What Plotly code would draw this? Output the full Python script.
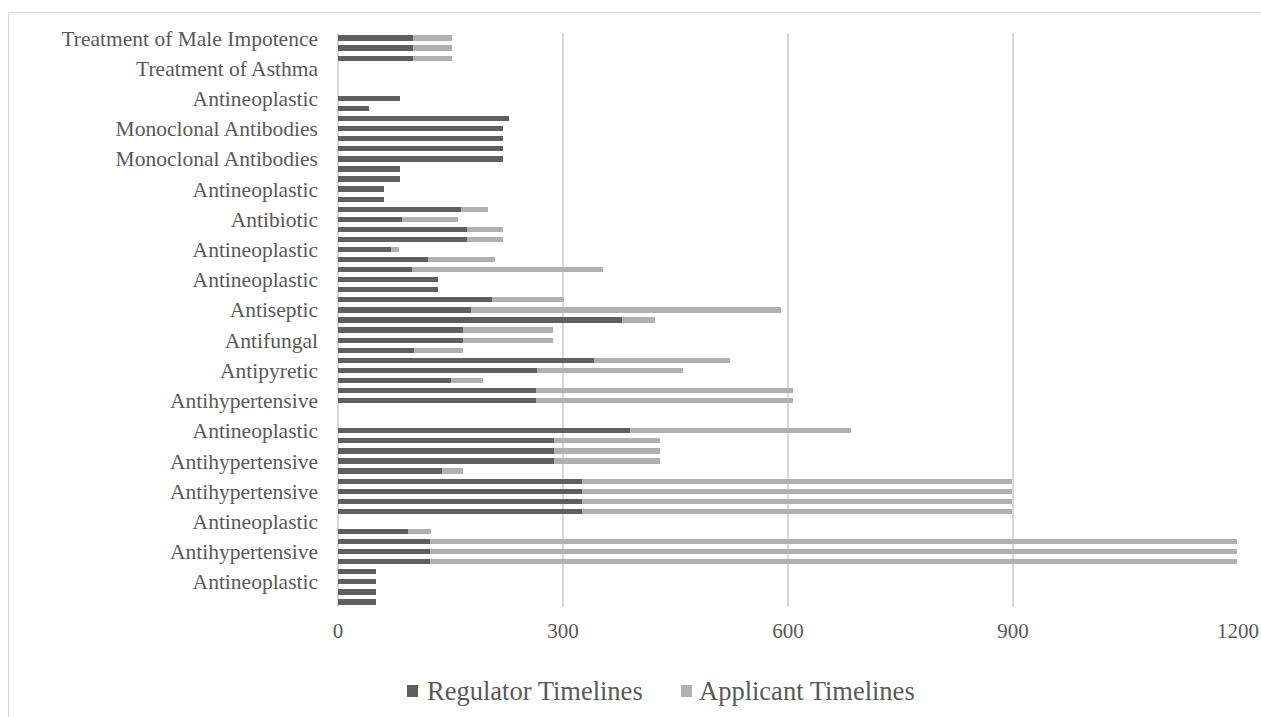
import plotly.graph_objects as go

# Rows listed from top to bottom of the chart
row_labels_top_down = [
    "Treatment of Male Impotence", "", "",
    "Treatment of Asthma", "", "",
    "Antineoplastic", "", "",
    "Monoclonal Antibodies", "", "",
    "Monoclonal Antibodies", "", "",
    "Antineoplastic", "", "",
    "Antibiotic", "", "",
    "Antineoplastic", "", "",
    "Antineoplastic", "", "",
    "Antiseptic", "", "",
    "Antifungal", "", "",
    "Antipyretic", "", "",
    "Antihypertensive", "", "",
    "Antineoplastic", "", "",
    "Antihypertensive", "", "",
    "Antihypertensive", "", "",
    "Antineoplastic", "", "",
    "Antihypertensive", "", "",
    "Antineoplastic", "", "",
]

regulator_top_down = [
    100, 100, 100, 0, 0, 0, 83, 41, 228, 220, 220, 220, 220, 83, 83, 61, 61,
    164, 85, 172, 172, 71, 120, 99, 133, 133, 205, 177, 379, 167, 167, 101,
    341, 265, 151, 264, 264, 0, 0, 389, 288, 288, 288, 139, 325, 325, 325,
    325, 0, 93, 123, 123, 123, 51, 51, 51, 51,
]

applicant_top_down = [
    52, 52, 52, 0, 0, 0, 0, 0, 0, 0, 0, 0, 0, 0, 0, 0, 0,
    36, 75, 48, 48, 10, 89, 254, 0, 0, 96, 414, 44, 120, 120, 66,
    182, 195, 42, 343, 343, 0, 0, 295, 141, 141, 141, 28, 573, 573, 573,
    573, 0, 31, 1075, 1075, 1075, 0, 0, 0, 0,
]

series_names = ["Regulator Timelines", "Applicant Timelines"]
series_colors = ["#5f5f5f", "#b0b0b0"]
x_ticks = [0, 300, 600, 900, 1200]

# Plot from bottom (index 0) to top
labels = row_labels_top_down[::-1]
regulator = regulator_top_down[::-1]
applicant = applicant_top_down[::-1]
positions = list(range(len(labels)))

tick_vals = [p for p, l in zip(positions, labels) if l]
tick_text = [l for l in labels if l]

font_family = "Liberation Serif, Times New Roman, serif"
text_color = "#595959"
grid_color = "#d9d9d9"

fig = go.Figure()
for vals, name, color in zip([regulator, applicant], series_names, series_colors):
    fig.add_trace(go.Bar(
        y=positions, x=vals, orientation="h", name=name,
        marker=dict(color=color, line=dict(width=0)), width=0.52,
    ))

# Legend drawn as squares + real text to match the tight spacing
legend_squares = [(0.0776, 0.0898), (0.3814, 0.3936)]
legend_text_x = [0.0976, 0.3991]
shapes = [
    dict(type="rect", xref="paper", yref="paper",
         x0=-0.3642, x1=1.2, y0=-0.5, y1=1.0357,
         line=dict(color=grid_color, width=1), fillcolor="rgba(0,0,0,0)",
         layer="below"),
]
annotations = []
for (sx0, sx1), tx, name, color in zip(legend_squares, legend_text_x, series_names, series_colors):
    shapes.append(dict(type="rect", xref="paper", yref="paper",
                       x0=sx0, x1=sx1, y0=-0.1568, y1=-0.1359,
                       line=dict(width=0), fillcolor=color))
    annotations.append(dict(xref="paper", yref="paper", x=tx, y=-0.1463,
                            xanchor="left", yanchor="middle", showarrow=False,
                            text=name,
                            font=dict(size=26.5, color=text_color, family=font_family)))

fig.update_layout(
    barmode="stack",
    width=1261, height=717,
    margin=dict(l=337, r=22, t=33, b=110, autoexpand=False),
    paper_bgcolor="white", plot_bgcolor="white",
    font=dict(family=font_family, color=text_color, size=21),
    showlegend=False,
    xaxis=dict(
        range=[-1.333, 1201.333], tickvals=x_ticks, ticktext=[str(v) for v in x_ticks],
        showgrid=True, gridcolor=grid_color, gridwidth=2,
        zeroline=True, zerolinecolor=grid_color, zerolinewidth=2,
        showline=False, ticks="", automargin=False,
        ticklabelstandoff=9, ticklabeloverflow="allow",
        tickfont=dict(size=21, color=text_color, family=font_family),
        fixedrange=True,
    ),
    yaxis=dict(
        range=[-0.5, len(labels) - 0.5], tickvals=tick_vals, ticktext=tick_text,
        showgrid=False, zeroline=False, showline=False, ticks="", automargin=False,
        ticklabelstandoff=18,
        tickfont=dict(size=21.5, color=text_color, family=font_family),
        fixedrange=True,
    ),
    shapes=shapes,
    annotations=annotations,
)

fig.write_html(
    "out.html",
    config={"displayModeBar": False},
    post_script="document.body.style.margin='0';document.body.style.overflow='hidden';",
)
